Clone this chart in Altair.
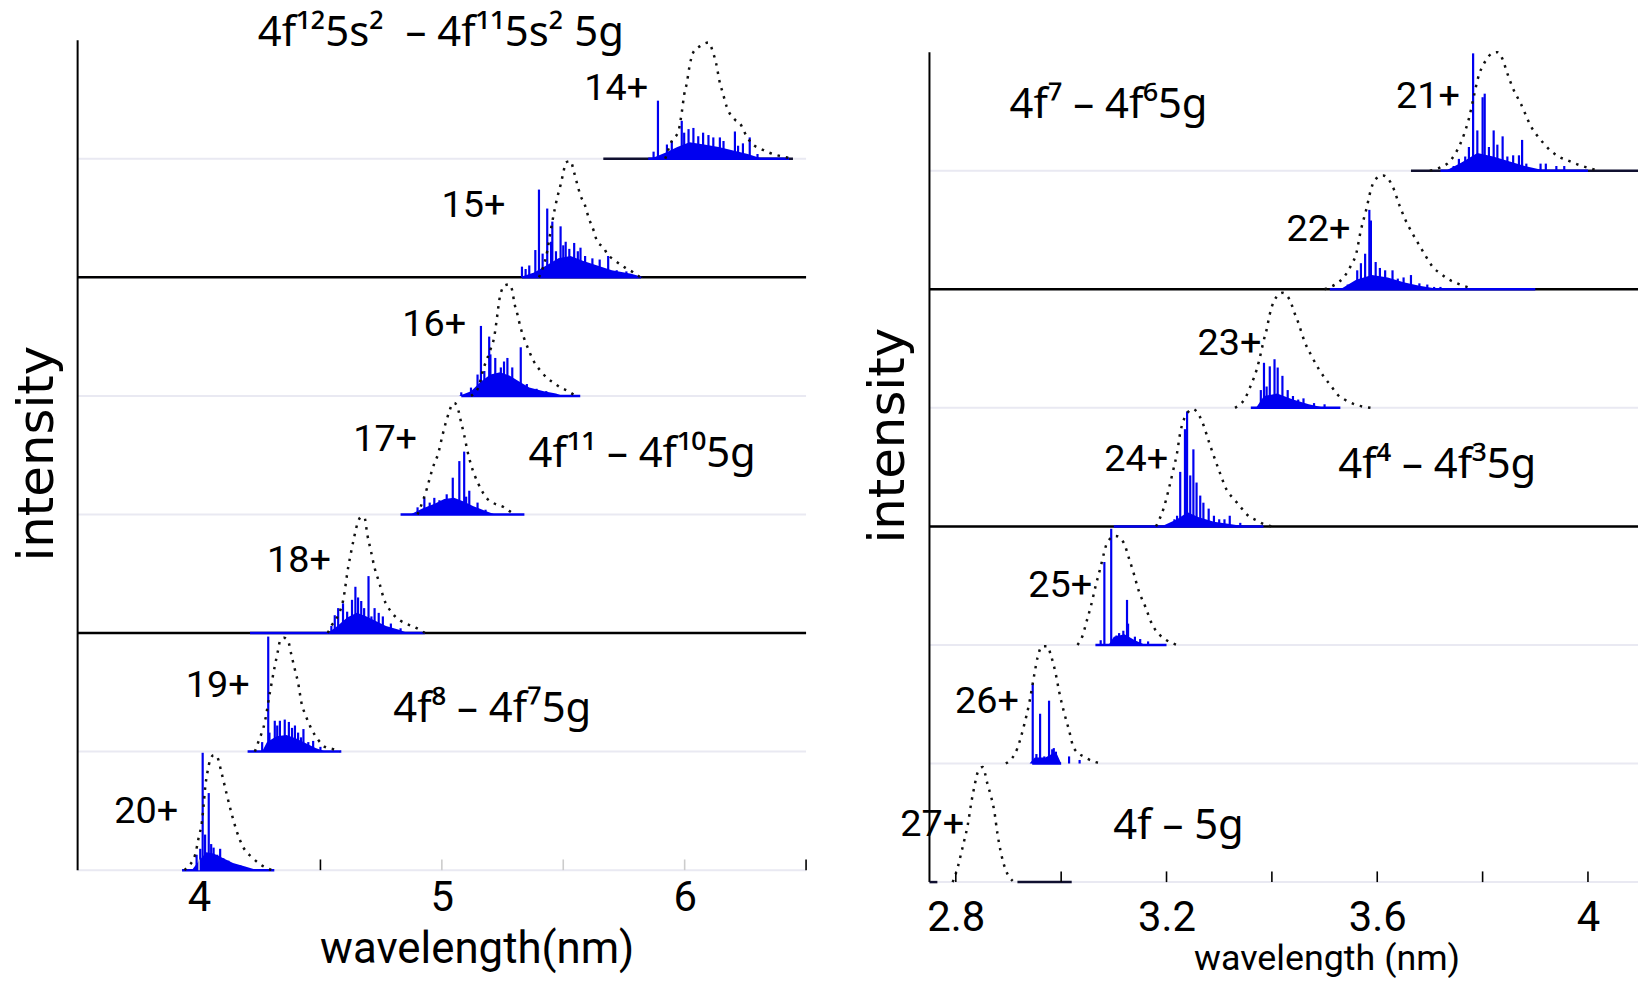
import altair as alt
import pandas as pd

# ---------------------------------------------------------------- fonts / colours
COND = "Roboto, Liberation Sans Narrow, sans-serif"
FORM = "Noto Sans, Open Sans, sans-serif"
TITLEF = "DejaVu Sans, Verdana, sans-serif"
BLUE = "#0000f0"

# ---------------------------------------------------------------- left panel data (nm, row heights)
LEFT_IONS = ["14+", "15+", "16+", "17+", "18+", "19+", "20+"]
LEFT_ROWS = [6, 5, 4, 3, 2, 1, 0]

ENV14_X = [5.92, 5.947, 5.974, 5.988, 5.998, 6.009, 6.02, 6.036, 6.063, 6.098, 6.118, 6.129, 6.145, 6.157, 6.173, 6.207, 6.227, 6.255, 6.276, 6.317, 6.446]
ENV14_H = [0.0, 0.15, 0.23, 0.39, 0.54, 0.64, 0.78, 0.90, 0.95, 0.98, 0.89, 0.81, 0.64, 0.555, 0.44, 0.33, 0.30, 0.19, 0.13, 0.08, 0.0]
ENV15_X = [5.40, 5.434, 5.448, 5.455, 5.475, 5.489, 5.50, 5.511, 5.53, 5.544, 5.557, 5.571, 5.589, 5.605, 5.626, 5.64, 5.667, 5.68, 5.708, 5.756, 5.79, 5.817]
ENV15_H = [0.0, 0.22, 0.39, 0.47, 0.67, 0.78, 0.88, 0.97, 0.98, 0.89, 0.79, 0.69, 0.61, 0.50, 0.39, 0.30, 0.25, 0.20, 0.15, 0.08, 0.04, 0.0]
ENV16_X = [5.12, 5.15, 5.17, 5.20, 5.215, 5.229, 5.236, 5.25, 5.256, 5.277, 5.291, 5.297, 5.311, 5.325, 5.338, 5.359, 5.379, 5.407, 5.434, 5.461, 5.489, 5.52, 5.55]
ENV16_H = [0.0, 0.07, 0.22, 0.39, 0.49, 0.69, 0.80, 0.91, 0.93, 0.94, 0.88, 0.80, 0.69, 0.57, 0.49, 0.38, 0.29, 0.21, 0.15, 0.11, 0.07, 0.04, 0.0]
ENV17_X = [4.90, 4.928, 4.969, 4.983, 5.003, 5.017, 5.031, 5.038, 5.051, 5.065, 5.079, 5.092, 5.106, 5.12, 5.15, 5.188, 5.209, 5.256, 5.277, 5.30]
ENV17_H = [0.0, 0.15, 0.43, 0.50, 0.67, 0.78, 0.87, 0.91, 0.94, 0.90, 0.78, 0.67, 0.53, 0.42, 0.26, 0.13, 0.10, 0.06, 0.03, 0.0]
ENV18_X = [4.53, 4.545, 4.573, 4.593, 4.614, 4.627, 4.638, 4.655, 4.668, 4.682, 4.693, 4.706, 4.723, 4.743, 4.761, 4.791, 4.825, 4.853, 4.907, 4.93]
ENV18_H = [0.0, 0.06, 0.15, 0.27, 0.55, 0.69, 0.80, 0.94, 0.98, 0.97, 0.83, 0.71, 0.55, 0.42, 0.29, 0.18, 0.11, 0.08, 0.03, 0.0]
ENV19_X = [4.23, 4.244, 4.271, 4.292, 4.312, 4.326, 4.333, 4.35, 4.367, 4.381, 4.395, 4.408, 4.422, 4.44, 4.463, 4.49, 4.518, 4.552, 4.58]
ENV19_H = [0.0, 0.08, 0.25, 0.50, 0.72, 0.86, 0.93, 0.96, 0.93, 0.81, 0.69, 0.58, 0.41, 0.30, 0.19, 0.10, 0.04, 0.02, 0.0]
ENV20_X = [3.94, 3.95, 3.984, 3.998, 4.012, 4.019, 4.025, 4.035, 4.046, 4.06, 4.073, 4.094, 4.114, 4.135, 4.155, 4.183, 4.217, 4.251, 4.30]
ENV20_H = [0.0, 0.02, 0.13, 0.27, 0.41, 0.55, 0.69, 0.83, 0.93, 0.97, 0.96, 0.81, 0.64, 0.47, 0.33, 0.19, 0.11, 0.05, 0.0]

STK14_X = [5.872, 5.89, 5.927, 5.947, 5.988, 5.998, 6.016, 6.036, 6.056, 6.076, 6.098, 6.118, 6.145, 6.16, 6.207, 6.22, 6.24, 6.268, 6.30]
STK14_H = [0.06, 0.49, 0.12, 0.15, 0.32, 0.22, 0.25, 0.26, 0.19, 0.22, 0.20, 0.18, 0.18, 0.15, 0.23, 0.11, 0.13, 0.18, 0.04]
STK15_X = [5.33, 5.345, 5.36, 5.385, 5.40, 5.415, 5.434, 5.45, 5.455, 5.47, 5.489, 5.50, 5.51, 5.525, 5.545, 5.56, 5.571, 5.59, 5.62, 5.65, 5.685, 5.72, 5.76]
STK15_H = [0.09, 0.07, 0.10, 0.23, 0.74, 0.20, 0.58, 0.30, 0.47, 0.22, 0.43, 0.27, 0.30, 0.24, 0.29, 0.22, 0.25, 0.18, 0.16, 0.15, 0.18, 0.06, 0.05]
STK16_X = [5.08, 5.12, 5.147, 5.161, 5.175, 5.195, 5.20, 5.22, 5.243, 5.256, 5.27, 5.29, 5.325, 5.35, 5.39, 5.43]
STK16_H = [0.03, 0.07, 0.18, 0.59, 0.21, 0.50, 0.35, 0.32, 0.24, 0.29, 0.32, 0.24, 0.41, 0.10, 0.06, 0.04]
STK17_X = [4.90, 4.928, 4.95, 4.969, 4.99, 5.02, 5.045, 5.072, 5.092, 5.10, 5.113, 5.147, 5.18]
STK17_H = [0.06, 0.14, 0.10, 0.14, 0.12, 0.17, 0.31, 0.45, 0.53, 0.15, 0.20, 0.10, 0.04]
STK18_X = [4.545, 4.559, 4.573, 4.593, 4.61, 4.63, 4.644, 4.655, 4.668, 4.68, 4.698, 4.71, 4.723, 4.74, 4.757, 4.79, 4.83]
STK18_H = [0.06, 0.15, 0.21, 0.25, 0.18, 0.28, 0.39, 0.30, 0.27, 0.21, 0.48, 0.14, 0.21, 0.17, 0.14, 0.08, 0.04]
STK19_X = [4.26, 4.285, 4.29, 4.312, 4.322, 4.333, 4.353, 4.37, 4.383, 4.395, 4.408, 4.42, 4.43, 4.45, 4.47, 4.50]
STK19_H = [0.08, 0.97, 0.16, 0.26, 0.22, 0.26, 0.27, 0.25, 0.20, 0.22, 0.16, 0.12, 0.19, 0.08, 0.09, 0.04]
STK20_X = [3.99, 4.005, 4.015, 4.025, 4.04, 4.05, 4.06, 4.075, 4.087, 4.10, 4.121, 4.14, 4.17]
STK20_H = [0.13, 0.18, 0.99, 0.30, 0.65, 0.22, 0.19, 0.13, 0.18, 0.10, 0.08, 0.05, 0.04]

FIL14_X = [5.86, 5.92, 5.97, 6.02, 6.08, 6.14, 6.20, 6.26, 6.32]
FIL14_H = [0.0, 0.05, 0.10, 0.14, 0.12, 0.10, 0.07, 0.04, 0.0]
FIL15_X = [5.32, 5.38, 5.43, 5.48, 5.53, 5.58, 5.64, 5.70, 5.78, 5.83]
FIL15_H = [0.0, 0.04, 0.10, 0.16, 0.18, 0.14, 0.10, 0.06, 0.03, 0.0]
FIL16_X = [5.07, 5.12, 5.16, 5.20, 5.24, 5.28, 5.32, 5.36, 5.42, 5.47, 5.50]
FIL16_H = [0.0, 0.04, 0.12, 0.18, 0.20, 0.17, 0.12, 0.07, 0.04, 0.02, 0.0]
FIL17_X = [4.87, 4.92, 4.97, 5.01, 5.05, 5.09, 5.13, 5.18, 5.22]
FIL17_H = [0.0, 0.05, 0.09, 0.13, 0.14, 0.11, 0.07, 0.03, 0.0]
FIL18_X = [4.53, 4.57, 4.61, 4.65, 4.69, 4.73, 4.77, 4.82, 4.86]
FIL18_H = [0.0, 0.06, 0.13, 0.17, 0.14, 0.10, 0.06, 0.03, 0.0]
FIL19_X = [4.26, 4.28, 4.32, 4.36, 4.40, 4.44, 4.48, 4.52]
FIL19_H = [0.0, 0.08, 0.13, 0.14, 0.11, 0.07, 0.03, 0.0]
FIL20_X = [3.97, 4.00, 4.03, 4.06, 4.10, 4.14, 4.19, 4.24]
FIL20_H = [0.0, 0.08, 0.15, 0.14, 0.10, 0.06, 0.03, 0.0]

BASE_L_LO = [5.85, 5.33, 5.08, 4.83, 4.21, 4.20, 3.93]
BASE_L_HI = [6.43, 5.82, 5.57, 5.34, 4.93, 4.586, 4.31]
DARK_L = [("14+", 5.665, 6.446)]

LABEL_L_X = [5.85, 5.262, 5.10, 4.898, 4.543, 4.209, 3.914]
LABEL_L_Y = [6.59, 5.60, 4.60, 3.63, 2.61, 1.55, 0.49]

FORM_L_TEXT = ["4f¹²5s²\u00a0 – 4f¹¹5s² 5g", "4f¹¹ – 4f¹⁰5g", "4f⁸ – 4f⁷5g"]
FORM_L_X = [4.242, 5.357, 4.80]
FORM_L_Y = [7.06, 3.51, 1.36]

BLACK_L_ROWS = [2, 5]
TICK_L_DARK = [4.5, 6.5]
TICK_L_LIGHT = [4.0, 5.0, 5.5, 6.0]
XLAB_L = [4, 5, 6]

# ---------------------------------------------------------------- right panel data
RIGHT_IONS = ["21+", "22+", "23+", "24+", "25+", "26+", "27+"]
RIGHT_ROWS = [6, 5, 4, 3, 2, 1, 0]

ENV21_X = [3.70, 3.721, 3.733, 3.749, 3.758, 3.765, 3.774, 3.784, 3.790, 3.806, 3.818, 3.828, 3.837, 3.847, 3.859, 3.872, 3.881, 3.891, 3.903, 3.916, 3.929, 3.944, 3.96, 3.982, 4.004, 4.02]
ENV21_H = [0.0, 0.03, 0.06, 0.15, 0.23, 0.31, 0.44, 0.64, 0.76, 0.93, 0.99, 1.0, 0.95, 0.82, 0.68, 0.57, 0.48, 0.38, 0.30, 0.23, 0.17, 0.12, 0.09, 0.05, 0.02, 0.0]
ENV22_X = [3.50, 3.52, 3.538, 3.55, 3.560, 3.569, 3.579, 3.588, 3.595, 3.611, 3.629, 3.642, 3.654, 3.667, 3.680, 3.692, 3.705, 3.721, 3.733, 3.752, 3.777]
ENV22_H = [0.0, 0.04, 0.11, 0.20, 0.30, 0.50, 0.67, 0.84, 0.92, 0.96, 0.87, 0.71, 0.58, 0.47, 0.37, 0.28, 0.19, 0.13, 0.09, 0.05, 0.01]
ENV23_X = [3.330, 3.349, 3.361, 3.371, 3.379, 3.384, 3.390, 3.396, 3.405, 3.420, 3.434, 3.443, 3.450, 3.462, 3.475, 3.49, 3.513, 3.525, 3.538, 3.557, 3.588]
ENV23_H = [0.0, 0.08, 0.20, 0.32, 0.46, 0.56, 0.66, 0.79, 0.91, 0.97, 0.91, 0.80, 0.72, 0.56, 0.44, 0.32, 0.18, 0.11, 0.07, 0.03, 0.0]
ENV24_X = [3.18, 3.195, 3.204, 3.213, 3.220, 3.226, 3.232, 3.242, 3.25, 3.257, 3.267, 3.283, 3.299, 3.314, 3.33, 3.343, 3.355, 3.371, 3.384, 3.40]
ENV24_H = [0.0, 0.16, 0.31, 0.48, 0.62, 0.79, 0.89, 0.97, 0.99, 0.97, 0.89, 0.68, 0.48, 0.31, 0.22, 0.15, 0.09, 0.05, 0.02, 0.0]
ENV25_X = [3.031, 3.04, 3.049, 3.056, 3.065, 3.075, 3.081, 3.087, 3.103, 3.119, 3.128, 3.138, 3.147, 3.16, 3.172, 3.188, 3.20, 3.22]
ENV25_H = [0.0, 0.07, 0.21, 0.32, 0.49, 0.66, 0.77, 0.86, 0.92, 0.86, 0.74, 0.60, 0.46, 0.32, 0.18, 0.08, 0.04, 0.0]
ENV26_X = [2.895, 2.917, 2.93, 2.939, 2.949, 2.955, 2.964, 2.974, 2.98, 2.99, 2.996, 3.005, 3.015, 3.024, 3.046, 3.075]
ENV26_H = [0.0, 0.13, 0.33, 0.50, 0.75, 0.89, 0.99, 0.99, 0.92, 0.75, 0.61, 0.44, 0.28, 0.13, 0.05, 0.0]
ENV27_X = [2.794, 2.804, 2.81, 2.816, 2.823, 2.829, 2.835, 2.842, 2.851, 2.86, 2.867, 2.873, 2.879, 2.886, 2.895, 2.908]
ENV27_H = [0.0, 0.13, 0.24, 0.35, 0.49, 0.66, 0.80, 0.93, 0.97, 0.83, 0.72, 0.60, 0.41, 0.24, 0.10, 0.01]

STK21_X = [3.745, 3.755, 3.767, 3.774, 3.782, 3.790, 3.80, 3.804, 3.812, 3.821, 3.828, 3.838, 3.847, 3.858, 3.869, 3.875, 3.883, 3.91, 3.92, 3.94, 3.955]
STK21_H = [0.04, 0.10, 0.12, 0.20, 0.99, 0.34, 0.62, 0.65, 0.20, 0.34, 0.22, 0.29, 0.12, 0.13, 0.13, 0.26, 0.06, 0.06, 0.06, 0.04, 0.04]
STK22_X = [3.544, 3.562, 3.569, 3.577, 3.585, 3.588, 3.597, 3.605, 3.615, 3.629, 3.639, 3.65, 3.664, 3.68, 3.695, 3.708, 3.72]
STK22_H = [0.04, 0.16, 0.22, 0.30, 0.67, 0.58, 0.23, 0.18, 0.16, 0.16, 0.09, 0.10, 0.12, 0.05, 0.04, 0.02, 0.02]
STK23_X = [3.379, 3.385, 3.39, 3.396, 3.405, 3.411, 3.42, 3.43, 3.44, 3.45, 3.46, 3.48, 3.50]
STK23_H = [0.15, 0.38, 0.18, 0.35, 0.41, 0.34, 0.27, 0.15, 0.10, 0.07, 0.08, 0.04, 0.03]
STK24_X = [3.215, 3.22, 3.226, 3.235, 3.239, 3.245, 3.251, 3.257, 3.264, 3.27, 3.28, 3.29, 3.30, 3.31, 3.32, 3.34]
STK24_H = [0.06, 0.09, 0.46, 0.82, 0.97, 0.43, 0.65, 0.37, 0.26, 0.20, 0.15, 0.09, 0.06, 0.06, 0.09, 0.03]
STK25_X = [3.075, 3.082, 3.095, 3.105, 3.11, 3.118, 3.125, 3.127, 3.14, 3.15, 3.165]
STK25_H = [0.04, 0.70, 0.98, 0.08, 0.10, 0.12, 0.38, 0.18, 0.07, 0.05, 0.03]
STK26_X = [2.946, 2.953, 2.96, 2.968, 2.977, 2.983, 2.986, 2.99, 3.015, 3.035]
STK26_H = [0.67, 0.08, 0.42, 0.06, 0.53, 0.12, 0.13, 0.10, 0.06, 0.03]
STK27_X = []
STK27_H = []

FIL21_X = [3.73, 3.76, 3.79, 3.82, 3.85, 3.88, 3.92]
FIL21_H = [0.0, 0.07, 0.15, 0.12, 0.08, 0.04, 0.0]
FIL22_X = [3.53, 3.56, 3.59, 3.62, 3.65, 3.68, 3.72]
FIL22_H = [0.0, 0.08, 0.12, 0.10, 0.06, 0.03, 0.0]
FIL23_X = [3.37, 3.385, 3.41, 3.44, 3.47, 3.50]
FIL23_H = [0.0, 0.10, 0.12, 0.07, 0.03, 0.0]
FIL24_X = [3.19, 3.22, 3.24, 3.26, 3.29, 3.32, 3.35]
FIL24_H = [0.0, 0.06, 0.12, 0.08, 0.04, 0.02, 0.0]
FIL25_X = [3.09, 3.10, 3.12, 3.14, 3.16]
FIL25_H = [0.0, 0.07, 0.09, 0.04, 0.0]
FIL26_X = [2.94, 2.95, 2.97, 2.99, 3.00]
FIL26_H = [0.0, 0.05, 0.05, 0.10, 0.0]
FIL27_X = []
FIL27_H = []

BASE_R_LO = [3.72, 3.51, 3.36, 3.10, 3.065, 2.945, 2.95]
BASE_R_HI = [4.00, 3.90, 3.53, 3.384, 3.20, 3.00, 2.95]
DARK_R = [("21+", 3.664, 4.095), ("27+", 2.917, 3.02), ("27+", 2.75, 2.765)]

LABEL_R_X = [3.757, 3.549, 3.380, 3.203, 3.059, 2.920, 2.816]
LABEL_R_Y = [6.62, 5.50, 4.54, 3.56, 2.50, 1.52, 0.48]

FORM_R_TEXT = ["4f⁷ – 4f⁶5g", "4f⁴ – 4f³5g", "4f – 5g"]
FORM_R_X = [2.902, 3.526, 3.099]
FORM_R_Y = [6.55, 3.52, 0.47]

BLACK_R_ROWS = [3, 5]
TICK_R = [2.8, 3.0, 3.2, 3.4, 3.6, 3.8, 4.0]
XLAB_R = [2.8, 3.2, 3.6, 4.0]

# ---------------------------------------------------------------- table building
ENV_L = [(ENV14_X, ENV14_H), (ENV15_X, ENV15_H), (ENV16_X, ENV16_H), (ENV17_X, ENV17_H),
         (ENV18_X, ENV18_H), (ENV19_X, ENV19_H), (ENV20_X, ENV20_H)]
STK_L = [(STK14_X, STK14_H), (STK15_X, STK15_H), (STK16_X, STK16_H), (STK17_X, STK17_H),
         (STK18_X, STK18_H), (STK19_X, STK19_H), (STK20_X, STK20_H)]
FIL_L = [(FIL14_X, FIL14_H), (FIL15_X, FIL15_H), (FIL16_X, FIL16_H), (FIL17_X, FIL17_H),
         (FIL18_X, FIL18_H), (FIL19_X, FIL19_H), (FIL20_X, FIL20_H)]
ENV_R = [(ENV21_X, ENV21_H), (ENV22_X, ENV22_H), (ENV23_X, ENV23_H), (ENV24_X, ENV24_H),
         (ENV25_X, ENV25_H), (ENV26_X, ENV26_H), (ENV27_X, ENV27_H)]
STK_R = [(STK21_X, STK21_H), (STK22_X, STK22_H), (STK23_X, STK23_H), (STK24_X, STK24_H),
         (STK25_X, STK25_H), (STK26_X, STK26_H), (STK27_X, STK27_H)]
FIL_R = [(FIL21_X, FIL21_H), (FIL22_X, FIL22_H), (FIL23_X, FIL23_H), (FIL24_X, FIL24_H),
         (FIL25_X, FIL25_H), (FIL26_X, FIL26_H), (FIL27_X, FIL27_H)]


def series_df(ions, rows, pairs):
    recs = []
    for ion, row, (xs, hs) in zip(ions, rows, pairs):
        for i, (x, h) in enumerate(zip(xs, hs)):
            recs.append({"ion": ion, "i": i, "x": x, "y": row + h, "y0": row})
    return pd.DataFrame(recs, columns=["ion", "i", "x", "y", "y0"])


def make_panel(ions, rows, env, stk, fil, base_lo, base_hi, dark, lab_x, lab_y,
               form_t, form_x, form_y, black_rows, xdom, ytop, width, height,
               xaxis, yaxis, ticks):
    xs = alt.Scale(domain=xdom, nice=False, zero=False)
    ys = alt.Scale(domain=[0, ytop], nice=False, zero=False)

    def X(f="x"):
        return alt.X(f + ":Q", scale=xs, axis=xaxis)

    def Y(f="y"):
        return alt.Y(f + ":Q", scale=ys, axis=yaxis)

    grid_df = pd.DataFrame({"x": [xdom[0]] * 7, "x2": [xdom[1]] * 7, "y": list(range(7))})
    black_df = pd.DataFrame({"x": [xdom[0]] * len(black_rows), "x2": [xdom[1]] * len(black_rows),
                             "y": black_rows})
    row_of = dict(zip(ions, rows))
    dark_df = pd.DataFrame({"x": [d[1] for d in dark], "x2": [d[2] for d in dark],
                            "y": [row_of[d[0]] for d in dark]})
    base_df = pd.DataFrame({"x": base_lo, "x2": base_hi, "y": rows})
    env_df = series_df(ions, rows, env)
    stk_df = series_df(ions, rows, stk)
    fil_df = series_df(ions, rows, fil)
    lab_df = pd.DataFrame({"x": lab_x, "y": lab_y, "t": ions})
    form_df = pd.DataFrame({"x": form_x, "y": form_y, "t": form_t})
    tick_df = pd.DataFrame(ticks, columns=["x", "c"])
    tick_df["y"] = 0.0
    tick_df["y2"] = 0.09
    yline_df = pd.DataFrame({"x": [xdom[0]], "y": [0.0], "y2": [7.0]})

    layers = [
        alt.Chart(grid_df).mark_rule(color="#e9e9f2", strokeWidth=2).encode(
            x=X(), x2="x2:Q", y=Y()),
        alt.Chart(yline_df).mark_rule(color="black", strokeWidth=2).encode(
            x=X(), y=Y(), y2="y2:Q"),
        alt.Chart(black_df).mark_rule(color="black", strokeWidth=2.5).encode(
            x=X(), x2="x2:Q", y=Y()),
        alt.Chart(dark_df).mark_rule(color="#101030", strokeWidth=2.5).encode(
            x=X(), x2="x2:Q", y=Y()),
        alt.Chart(base_df).mark_rule(color=BLUE, strokeWidth=2.5).encode(
            x=X(), x2="x2:Q", y=Y()),
        alt.Chart(fil_df).mark_area(color=BLUE, opacity=1).encode(
            x=X(), y=Y(), y2="y0:Q", detail="ion:N"),
        alt.Chart(stk_df).mark_rule(color=BLUE, strokeWidth=2.2).encode(
            x=X(), y=Y("y0"), y2="y:Q"),
        alt.Chart(env_df).mark_line(color="#111111", strokeWidth=2.5, strokeDash=[2.5, 6],
                                    interpolate="monotone").encode(
            x=X(), y=Y(), detail="ion:N", order="i:Q"),
        alt.Chart(tick_df).mark_rule(strokeWidth=1.6).encode(
            x=X(), y=Y(), y2="y2:Q", color=alt.Color("c:N", scale=None)),
        alt.Chart(lab_df).mark_text(font=COND, fontSize=38, align="right", baseline="middle",
                                    color="black").encode(x=X(), y=Y(), text="t:N"),
        alt.Chart(form_df).mark_text(font=FORM, fontSize=42, align="left", baseline="middle",
                                     color="black").encode(x=X(), y=Y(), text="t:N"),
    ]
    return alt.layer(*layers).properties(width=width, height=height)


left_xaxis = alt.Axis(values=XLAB_L, ticks=False, domain=False, grid=False,
                      labelFont=COND, labelFontSize=42, labelPadding=8, labelColor="black",
                      labelFlush=False, labelOverlap=False,
                      title="wavelength(nm)", titleFont=COND, titleFontSize=44,
                      titleFontWeight="normal", titleColor="black",
                      titleX=401, titleY=80, titleAlign="center", titleBaseline="middle")
left_yaxis = alt.Axis(ticks=False, labels=False, grid=False, domain=False,
                      title="intensity", titleFont=TITLEF, titleFontSize=50,
                      titleFontWeight="normal", titleColor="black",
                      titleX=-40, titleY=415, titleAngle=270, titleAlign="center",
                      titleBaseline="middle")
right_xaxis = alt.Axis(values=XLAB_R, format="~g", ticks=False, domain=False, grid=False,
                       labelFont=COND, labelFontSize=42, labelPadding=16, labelColor="black",
                       labelFlush=False, labelOverlap=False,
                       title="wavelength (nm)", titleFont=COND, titleFontSize=36,
                       titleFontWeight="normal", titleColor="black",
                       titleX=399, titleY=77, titleAlign="center", titleBaseline="middle")
right_yaxis = alt.Axis(ticks=False, labels=False, grid=False, domain=False,
                       title="intensity", titleFont=TITLEF, titleFontSize=50,
                       titleFontWeight="normal", titleColor="black",
                       titleX=-41, titleY=397, titleAngle=270, titleAlign="center",
                       titleBaseline="middle")

left_ticks = [(t, "black") for t in TICK_L_DARK] + [(t, "#cccccc") for t in TICK_L_LIGHT]
right_ticks = [(t, "black") for t in TICK_R]

left = make_panel(LEFT_IONS, LEFT_ROWS, ENV_L, STK_L, FIL_L, BASE_L_LO, BASE_L_HI, DARK_L,
                  LABEL_L_X, LABEL_L_Y, FORM_L_TEXT, FORM_L_X, FORM_L_Y, BLACK_L_ROWS,
                  [3.5, 6.5], 7.0, 732, 834, left_xaxis, left_yaxis, left_ticks)
right = make_panel(RIGHT_IONS, RIGHT_ROWS, ENV_R, STK_R, FIL_R, BASE_R_LO, BASE_R_HI, DARK_R,
                   LABEL_R_X, LABEL_R_Y, FORM_R_TEXT, FORM_R_X, FORM_R_Y, BLACK_R_ROWS,
                   [2.75, 4.095], 7.101, 712, 846, right_xaxis, right_yaxis, right_ticks)

chart = alt.hconcat(left, right, spacing=56).configure_view(stroke=None).properties(
    padding={"left": 13, "top": 9, "right": 0, "bottom": 0},
    background="white",
)

chart.save("out.html", embed_options={"renderer": "svg", "actions": False})
